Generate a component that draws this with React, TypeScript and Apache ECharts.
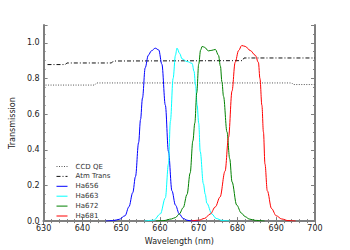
import React, { useEffect, useRef } from "react";
import * as echarts from "echarts";

const xTicks = [630, 640, 650, 660, 670, 680, 690, 700];

const ccdWl = [630.5, 643.2, 643.6, 694.0, 694.4, 700];
const ccdVal = [0.763, 0.763, 0.775, 0.775, 0.766, 0.766];

const atmWl = [631, 635.6, 636, 647.5, 648, 681.3, 681.7, 700];
const atmVal = [0.878, 0.878, 0.887, 0.887, 0.898, 0.9, 0.915, 0.915];

const ha656Wl = [646, 648, 649.5, 651, 652, 653, 653.7, 654.5, 655, 655.5, 656.2, 657, 657.8, 658.8, 659.7, 660.5, 661.4, 662.2, 663.1, 664, 665, 666, 667, 668, 670];
const ha656Val = [0, 0.003, 0.01, 0.03, 0.08, 0.16, 0.25, 0.44, 0.57, 0.69, 0.86, 0.93, 0.955, 0.97, 0.96, 0.88, 0.65, 0.39, 0.17, 0.09, 0.04, 0.015, 0.005, 0.001, 0];

const ha663Wl = [656, 658.4, 660.1, 661.4, 662.2, 662.7, 663.4, 664.0, 664.4, 665.1, 665.7, 667.0, 668.3, 668.8, 669.2, 669.6, 670.0, 670.4, 671.2, 671.7, 672.1, 673.4, 674.5, 676, 678];
const ha663Val = [0, 0.005, 0.04, 0.13, 0.32, 0.56, 0.8, 0.93, 0.97, 0.94, 0.91, 0.895, 0.885, 0.84, 0.76, 0.65, 0.55, 0.39, 0.21, 0.15, 0.1, 0.04, 0.015, 0.004, 0];

const ha672Wl = [659, 661, 663, 664, 665, 666, 667, 667.8, 668.5, 669, 669.5, 670, 670.5, 670.9, 671.5, 672.5, 673.4, 674.3, 675.1, 675.6, 676, 676.4, 677.3, 678, 678.6, 679.8, 681, 682, 683, 684.6, 687];
const ha672Val = [0, 0.003, 0.012, 0.02, 0.04, 0.075, 0.15, 0.27, 0.45, 0.55, 0.72, 0.88, 0.96, 0.98, 0.975, 0.955, 0.958, 0.963, 0.93, 0.87, 0.78, 0.7, 0.5, 0.35, 0.22, 0.09, 0.045, 0.025, 0.012, 0.004, 0];

const ha681Wl = [668, 670, 671.5, 673, 674.3, 675.5, 676.8, 677.7, 678.6, 679.4, 680.3, 681.1, 682, 683.3, 684.6, 685.4, 685.8, 686.3, 686.7, 687.1, 687.7, 688.8, 690, 691.4, 693, 695];
const ha681Val = [0, 0.005, 0.015, 0.04, 0.08, 0.135, 0.28, 0.47, 0.73, 0.89, 0.957, 0.985, 0.98, 0.957, 0.93, 0.89, 0.8, 0.65, 0.5, 0.32, 0.17, 0.07, 0.03, 0.012, 0.003, 0];

const pairs = (xs: number[], ys: number[]) => xs.map((x, i) => [x, ys[i]]);

const frame = "#7f7f7f";

export default function App() {
  const ref = useRef<HTMLDivElement>(null);
  useEffect(() => {
    if (!ref.current) return;
    const chart = echarts.init(ref.current, null, { renderer: "svg" });
    const font = "DejaVu Sans";
    const baseX = {
      type: "value" as const,
      min: 630,
      max: 700,
      interval: 10,
      splitLine: { show: false },
      axisLine: { show: true, lineStyle: { color: frame, width: 2 } },
      axisTick: { show: true, inside: true, length: 4, lineStyle: { color: frame } },
      minorTick: { show: true, splitNumber: 5, length: 2, lineStyle: { color: frame } },
    };
    const baseY = {
      type: "value" as const,
      min: 0,
      max: 1.1,
      interval: 0.2,
      splitLine: { show: false },
      axisLine: { show: true, lineStyle: { color: frame, width: 2 } },
      axisTick: { show: true, inside: true, length: 4, lineStyle: { color: frame } },
      minorTick: { show: true, splitNumber: 4, length: 2, lineStyle: { color: frame } },
    };
    const filter = (name: string, color: string, xs: number[], ys: number[]) => ({
      name,
      type: "line",
      data: pairs(xs, ys),
      symbol: "none",
      smooth: 0.35,
      smoothMonotone: "x",
      lineStyle: { color, width: 1 },
      itemStyle: { color },
      z: 3,
    });
    chart.setOption({
      animation: false,
      backgroundColor: "#ffffff",
      grid: { left: 43, right: 35, top: 25, bottom: 26 },
      textStyle: { fontFamily: font },
      legend: {
        left: 51,
        top: 158,
        orient: "vertical",
        itemWidth: 11,
        itemHeight: 6,
        itemGap: 2.9,
        itemStyle: { opacity: 0 },
        lineStyle: { width: 1 },
        textStyle: { fontSize: 7, color: "#333", fontFamily: font, padding: [0, 0, 0, 3] },
        data: ["CCD QE", "Atm Trans", "Ha656", "Ha663", "Ha672", "Ha681"],
      },
      xAxis: [
        {
          ...baseX,
          position: "bottom",
          name: "Wavelength (nm)",
          nameLocation: "middle",
          nameGap: 13,
          nameTextStyle: { fontSize: 8, color: "#222", fontFamily: font },
          axisLabel: {
            fontSize: 8,
            color: "#222",
            margin: 3,
            fontFamily: font,
            formatter: (v: number) => (xTicks.includes(v) ? String(v) : ""),
          },
        },
        { ...baseX, position: "top", axisLabel: { show: false } },
      ],
      yAxis: [
        {
          ...baseY,
          position: "left",
          name: "Transmission",
          nameLocation: "middle",
          nameGap: 25,
          nameTextStyle: { fontSize: 8, color: "#222", fontFamily: font },
          axisLabel: {
            fontSize: 8,
            color: "#222",
            margin: 4,
            fontFamily: font,
            showMaxLabel: false,
            formatter: (v: number) => (v > 1.05 ? "" : v.toFixed(1)),
          },
        },
        { ...baseY, position: "right", axisLabel: { show: false } },
      ],
      series: [
        {
          name: "CCD QE",
          type: "line",
          data: pairs(ccdWl, ccdVal),
          symbol: "none",
          lineStyle: { color: "#555", width: 1, type: [1, 1.5] },
          itemStyle: { color: "#555" },
        },
        {
          name: "Atm Trans",
          type: "line",
          data: pairs(atmWl, atmVal),
          symbol: "none",
          lineStyle: { color: "#111", width: 1, type: [4, 2, 1, 2] },
          itemStyle: { color: "#111" },
        },
        filter("Ha656", "#0000ff", ha656Wl, ha656Val),
        filter("Ha663", "#00ffff", ha663Wl, ha663Val),
        filter("Ha672", "#008000", ha672Wl, ha672Val),
        filter("Ha681", "#ff0000", ha681Wl, ha681Val),
      ],
    });
    return () => chart.dispose();
  }, []);
  return (
    <div
      ref={ref}
      style={{ position: "fixed", left: 0, top: 0, width: 350, height: 250 }}
    />
  );
}
